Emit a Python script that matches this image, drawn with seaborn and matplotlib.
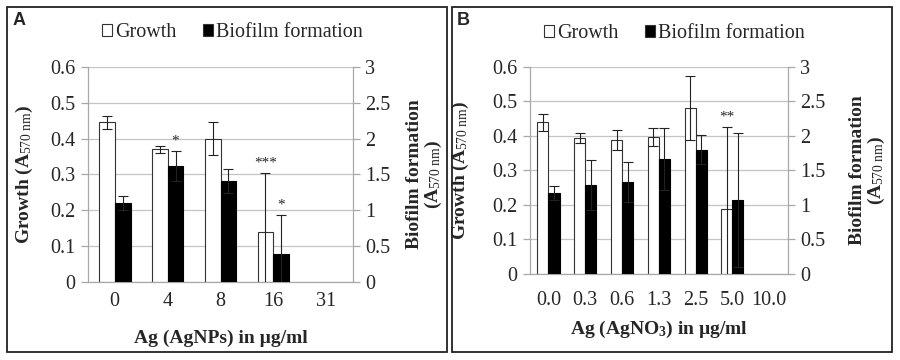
import numpy as np
import pandas as pd
import matplotlib
matplotlib.use("Agg")
import matplotlib.pyplot as plt
import seaborn as sns
from matplotlib.patches import Patch, Rectangle
from matplotlib.ticker import FixedLocator

# ---- data ----
conc_a = ['0', '4', '8', '16', '31']
growth_a = [0.445, 0.37, 0.40, 0.14, np.nan]
growth_a_err = [0.018, 0.010, 0.045, 0.165, np.nan]
biofilm_a = [1.10, 1.62, 1.41, 0.39, np.nan]
biofilm_a_err = [0.10, 0.21, 0.17, 0.55, np.nan]
stars_a = [('Biofilm formation', '4', '*'), ('Growth', '16', '***'), ('Biofilm formation', '16', '*')]

conc_b = ['0.0', '0.3', '0.6', '1.3', '2.5', '5.0', '10.0']
growth_b = [0.44, 0.394, 0.388, 0.397, 0.481, 0.188, np.nan]
growth_b_err = [0.025, 0.015, 0.03, 0.026, 0.093, 0.238, np.nan]
biofilm_b = [1.17, 1.29, 1.33, 1.67, 1.80, 1.07, np.nan]
biofilm_b_err = [0.10, 0.36, 0.29, 0.45, 0.21, 0.97, np.nan]
stars_b = [('Growth', '5.0', '**')]

series = ['Growth', 'Biofilm formation']
palette = {'Growth': 'white', 'Biofilm formation': 'black'}
GRID = '#c4c4c4'
SPINE = '#a8a8a8'

sns.set_style("white")
plt.rcParams['font.family'] = ['Liberation Serif', 'DejaVu Serif']
plt.rcParams['mathtext.fontset'] = 'custom'
plt.rcParams['mathtext.rm'] = 'Liberation Serif'
plt.rcParams['mathtext.it'] = 'Liberation Serif:italic'
plt.rcParams['mathtext.bf'] = 'Liberation Serif:bold'


def make_df(conc, vals, errs, name):
    df = pd.DataFrame({'conc': conc, 'value': vals, 'err': errs, 'series': name})
    return df.dropna()


def add_errors(ax, df):
    bars = sorted(ax.patches, key=lambda p: p.get_x())
    xs = [p.get_x() + p.get_width() / 2 for p in bars]
    ax.errorbar(xs, df['value'], yerr=df['err'], fmt='none', ecolor='#222222',
                elinewidth=0.8, capsize=3.5, capthick=0.8, zorder=5)
    return dict(zip(df['conc'], zip(xs, df['value'] + df['err'])))


def panel(fig, rect, conc, g, ge, b, be, stars, xlabel, letter, ylab_x, rlab_x, leg_x,
          border, tick_pad, xlab_pad):
    fig.add_artist(Rectangle((border[0], border[1]), border[2], border[3],
                             transform=fig.transFigure, fill=False, ec='#222222', lw=1.3))
    fig.text(border[0] + 0.006, border[1] + border[3] - 0.05, letter,
             family='Liberation Sans', weight='bold', fontsize=13)

    ax = fig.add_axes(rect)
    dg = make_df(conc, g, ge, 'Growth')
    db = make_df(conc, b, be, 'Biofilm formation')

    sns.barplot(data=dg, x='conc', y='value', hue='series', hue_order=series, order=conc,
                palette=palette, edgecolor='#333333', linewidth=0.8, width=0.6, dodge=True,
                errorbar=None, legend=False, ax=ax)
    tops_g = add_errors(ax, dg)

    ax2 = ax.twinx()
    sns.barplot(data=db, x='conc', y='value', hue='series', hue_order=series, order=conc,
                palette=palette, edgecolor='black', linewidth=0.8, width=0.6, dodge=True,
                errorbar=None, legend=False, ax=ax2)
    tops_b = add_errors(ax2, db)

    n = len(conc)
    for a in (ax, ax2):
        a.set_xlim(-0.5, n - 0.5)
        for s in a.spines.values():
            s.set_visible(False)
    ax.set_ylim(0, 0.6)
    ax.set_yticks(np.arange(0, 0.61, 0.1))
    ax.set_yticklabels(['0', '0.1', '0.2', '0.3', '0.4', '0.5', '0.6'])
    ax2.set_ylim(0, 3)
    ax2.set_yticks(np.arange(0, 3.01, 0.5))
    ax2.set_yticklabels(['0', '0.5', '1', '1.5', '2', '2.5', '3'])

    ax.spines['left'].set_visible(True)
    ax.spines['bottom'].set_visible(True)
    ax2.spines['right'].set_visible(True)
    for s in (ax.spines['left'], ax.spines['bottom'], ax2.spines['right']):
        s.set_color(SPINE)
        s.set_linewidth(0.9)

    ax.yaxis.grid(True, color=GRID, lw=0.9)
    ax.set_axisbelow(True)

    ax.set_xticks(range(n))
    ax.set_xticklabels(conc)
    ax.xaxis.set_minor_locator(FixedLocator(np.arange(n + 1) - 0.5))
    ax.tick_params(axis='x', which='major', length=0, labelsize=14.5, pad=tick_pad)
    ax.tick_params(axis='x', which='minor', length=6, color=SPINE, width=0.9, direction='out')
    ax.tick_params(axis='y', length=5, color=SPINE, width=0.9, direction='out', labelsize=14.5, pad=4)
    ax2.tick_params(axis='y', length=5, color=SPINE, width=0.9, direction='out', labelsize=14.5, pad=4)

    ax.set_xlabel(xlabel, fontsize=14, weight='bold', labelpad=xlab_pad)
    ax.set_ylabel(r'Growth (A$_{\mathrm{570\ nm}}$)', fontsize=14, weight='bold')
    ax.yaxis.set_label_coords(ylab_x, 0.5)
    ax2.set_ylabel('Biofilm formation\n' + r'(A$_{\mathrm{570\ nm}}$)', fontsize=14,
                   weight='bold', rotation=90, linespacing=1.0)
    ax2.yaxis.set_label_coords(rlab_x, 0.5)

    for name, c, txt in stars:
        a, tops = (ax, tops_g) if name == 'Growth' else (ax2, tops_b)
        x, top = tops[c]
        a.annotate(txt, (x, top), xytext=(0, 7), textcoords='offset points',
                   ha='center', va='center', fontsize=11)

    handles = [Patch(facecolor=palette[s], edgecolor='#333333', lw=0.8) for s in series]
    ax.legend(handles, series, loc='center', bbox_to_anchor=(leg_x, 1.16), ncol=2,
              frameon=False, fontsize=14.5, handlelength=0.5, handleheight=0.5,
              handletextpad=0.15, columnspacing=1.3, borderaxespad=0)
    return ax


fig = plt.figure(figsize=(9, 3.6), dpi=100)
panel(fig, [0.098, 0.217, 0.294, 0.597], conc_a, growth_a, growth_a_err, biofilm_a, biofilm_a_err,
      stars_a, 'Ag (AgNPs) in µg/ml', 'A', -0.2, 1.2, 0.545,
      (0.008, 0.022, 0.489, 0.958), 7.5, 13)
panel(fig, [0.589, 0.239, 0.286, 0.575], conc_b, growth_b, growth_b_err, biofilm_b, biofilm_b_err,
      stars_b, r'Ag (AgNO$_{\mathbf{3}}$) in µg/ml', 'B', -0.23, 1.24, 0.56,
      (0.502, 0.022, 0.489, 0.958), 12.5, 6)

fig.savefig('out.png', dpi=100)
